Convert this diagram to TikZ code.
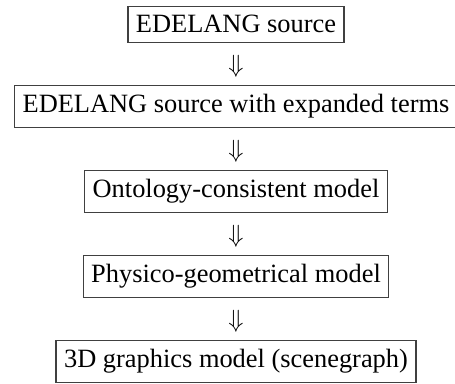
\documentclass[tikz,border=0pt]{standalone}
\usepackage{fontspec}
\setmainfont{Liberation Serif}
\usetikzlibrary{calc}
\begin{document}
\begin{tikzpicture}[x=1pt,y=-1pt,
  stage/.style={draw=black!75, line width=1.2pt, anchor=north,
    inner xsep=8pt, inner ysep=9.3pt,
    font=\fontsize{26.4}{30}\selectfont},
  darrow/.style={font=\fontsize{26.4}{30}\selectfont, inner sep=0pt}]
\useasboundingbox (0,0) rectangle (455,383);
% boxes stacked with equal gaps; the picture crops the wide one and the last one
\node[stage] (s1) at (236,5.5) {EDELANG source};
\node[stage] (s2) at (236,84.5) {EDELANG source with expanded terms};
\node[stage] (s3) at (236,169.5) {Ontology-consistent model};
\node[stage] (s4) at (236,254.5) {Physico-geometrical model};
\node[stage] (s5) at (236,339.5) {3D graphics model (scenegraph)};
\foreach \a/\b in {s1/s2,s2/s3,s3/s4,s4/s5}
  \node[darrow] (d\a) at ($(\a.south)!0.55!(\b.north)$) {$\Downarrow$};
\end{tikzpicture}
\end{document}
